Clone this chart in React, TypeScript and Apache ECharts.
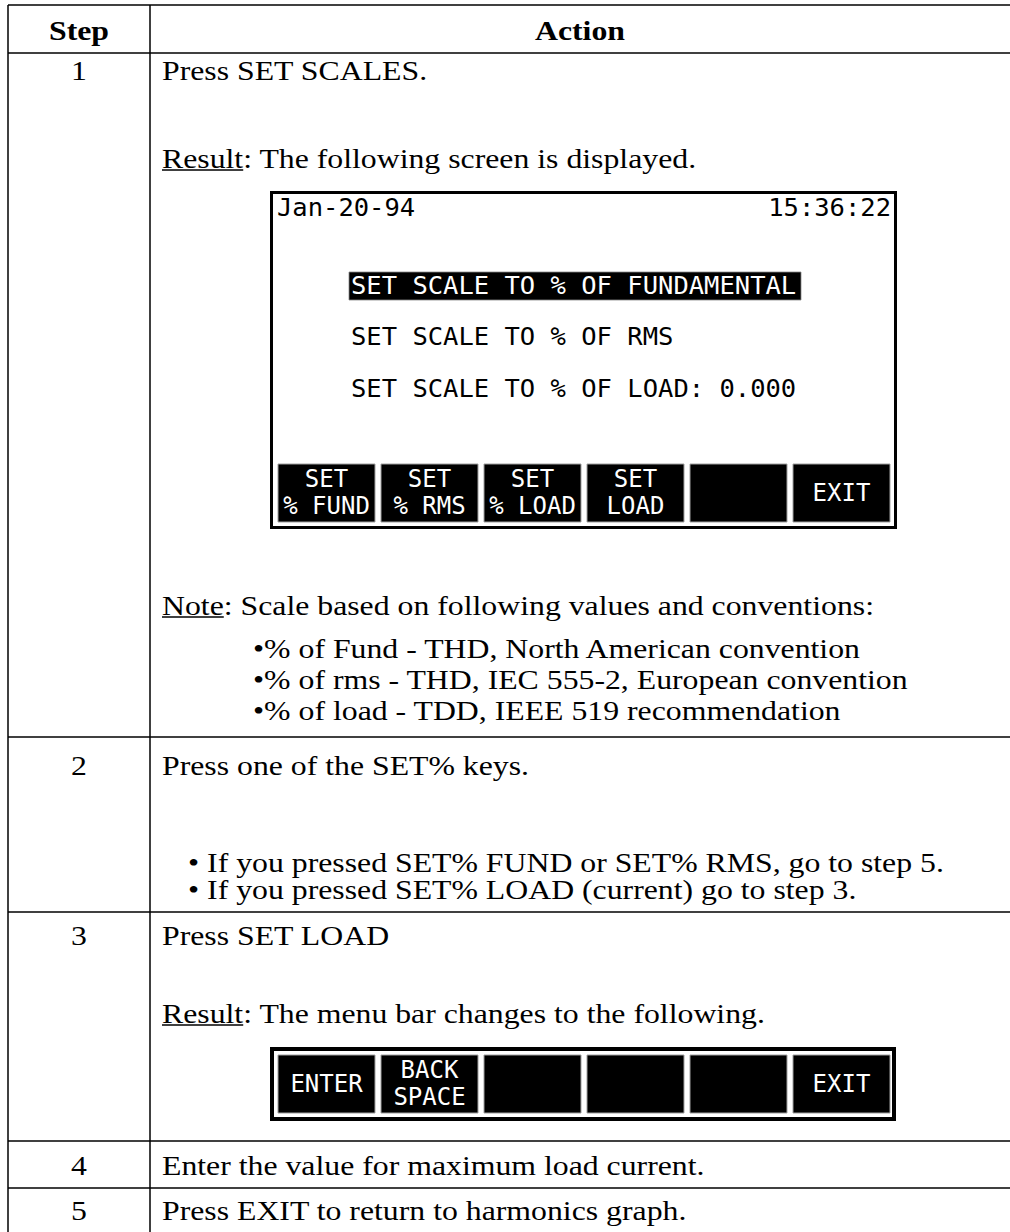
import React, { useEffect, useRef } from "react";
import * as echarts from "echarts";

// ---- content ----
const headerLabels = ["Step", "Action"];
const stepNumbers = ["1", "2", "3", "4", "5"];
const step1Main = "Press SET SCALES.";
const step1Result = "The following screen is displayed.";
const screenDate = "Jan-20-94";
const screenTime = "15:36:22";
const screenMenuItems = [
  "SET SCALE TO % OF FUNDAMENTAL",
  "SET SCALE TO % OF RMS",
  "SET SCALE TO % OF LOAD: 0.000",
];
const screenKeys = [["SET", "% FUND"], ["SET", "% RMS"], ["SET", "% LOAD"], ["SET", "LOAD"], [], ["EXIT"]];
const noteText = "Scale based on following values and conventions:";
const noteBullets = [
  "•% of Fund - THD, North American convention",
  "•% of rms - THD, IEC 555-2, European convention",
  "•% of load - TDD, IEEE 519 recommendation",
];
const step2Main = "Press one of the SET% keys.";
const step2Bullets = [
  "• If you pressed SET% FUND or SET% RMS, go to step 5.",
  "• If you pressed SET% LOAD (current) go to step 3.",
];
const step3Main = "Press SET LOAD";
const step3Result = "The menu bar changes to the following.";
const loadKeys = [["ENTER"], ["BACK", "SPACE"], [], [], [], ["EXIT"]];
const step4Main = "Enter the value for maximum load current.";
const step5Main = "Press EXIT to return to harmonics graph.";

// ---- layout ----
const W = 1010;
const H = 1232;
const SERIF = "Liberation Serif";
const MONO = "DejaVu Sans Mono";
const FS = 28;
const SX = 1.135;
const LCD_FS = 25;
const LCD_SX = 1.02;
const KEY_FS = 24;

function measure(text: string, font: string) {
  const c = document.createElement("canvas");
  const ctx = c.getContext("2d")!;
  ctx.font = font;
  return ctx.measureText(text).width;
}

function serifText(text: string, x: number, y: number, opts: any = {}) {
  return {
    type: "text",
    x,
    y,
    scaleX: SX,
    style: {
      text,
      fill: "#000",
      fontFamily: SERIF,
      fontSize: FS,
      fontWeight: opts.bold ? "bold" : "normal",
      textAlign: opts.align || "left",
      align: opts.align || "left",
      textVerticalAlign: "middle",
      verticalAlign: "middle",
    },
  };
}

function labelWithUnderline(label: string, rest: string, x: number, y: number) {
  const lw = measure(label, `${FS}px "${SERIF}"`) * SX;
  return [
    serifText(label + ": " + rest, x, y),
    { type: "line", shape: { x1: x, y1: y + 12, x2: x + lw, y2: y + 12 }, style: { stroke: "#000", lineWidth: 1.5 } },
  ];
}

function lcdText(text: string, x: number, y: number, fill: string, align = "left", size = LCD_FS, sx = LCD_SX) {
  return {
    type: "text",
    x,
    y,
    scaleX: sx,
    style: {
      text,
      fill,
      fontFamily: MONO,
      fontSize: size,
      textAlign: align,
      align,
      textVerticalAlign: "middle",
      verticalAlign: "middle",
    },
  };
}

function keyBar(keys: string[][], top: number, height: number) {
  const els: any[] = [];
  keys.forEach((lines, i) => {
    const x = 278 + i * 103;
    els.push({
      type: "rect",
      shape: { x, y: top, width: 97, height },
      style: { fill: "#000", stroke: "#a0a0a0", lineWidth: 1 },
    });
    const cx = x + 48.5;
    const cy = top + height / 2;
    if (lines.length === 1) els.push(lcdText(lines[0], cx, cy, "#fff", "center", KEY_FS, 1));
    if (lines.length === 2) {
      els.push(lcdText(lines[0], cx, cy - 14, "#fff", "center", KEY_FS, 1));
      els.push(lcdText(lines[1], cx, cy + 13, "#fff", "center", KEY_FS, 1));
    }
  });
  return els;
}

function buildGraphic() {
  const g: any[] = [];
  const line = (x1: number, y1: number, x2: number, y2: number) =>
    g.push({ type: "line", shape: { x1, y1, x2, y2 }, style: { stroke: "#000", lineWidth: 1.5 } });

  // grid lines
  const divX = 150;
  const leftX = 8;
  const rowLines = [5, 53, 737, 912, 1141, 1188];
  rowLines.forEach((y) => line(leftX, y, W, y));
  line(leftX, 5, leftX, H);
  line(divX, 5, divX, H);

  // header
  g.push(serifText(headerLabels[0], 79, 30, { bold: true, align: "center" }));
  g.push(serifText(headerLabels[1], 580, 30, { bold: true, align: "center" }));

  // step numbers
  const numY = [70, 765, 935, 1165, 1210];
  stepNumbers.forEach((n, i) => g.push(serifText(n, 79, numY[i], { align: "center" })));

  const tx = 162;
  // step 1
  g.push(serifText(step1Main, tx, 70));
  g.push(...labelWithUnderline("Result", step1Result, tx, 158));

  // screen
  g.push({ type: "rect", shape: { x: 271.5, y: 192.5, width: 624, height: 335 }, style: { fill: "#fff", stroke: "#000", lineWidth: 3 } });
  g.push(lcdText(screenDate, 277, 208, "#000"));
  g.push(lcdText(screenTime, 891, 208, "#000", "right"));
  g.push({ type: "rect", shape: { x: 349, y: 272, width: 452, height: 28 }, style: { fill: "#000", stroke: "#888", lineWidth: 0.8 } });
  const menuY = [286, 337, 389];
  screenMenuItems.forEach((t, i) => g.push(lcdText(t, 351, menuY[i], i === 0 ? "#fff" : "#000")));
  g.push(...keyBar(screenKeys, 464, 58));

  // note
  g.push(...labelWithUnderline("Note", noteText, tx, 605));
  const noteY = [648, 679, 710];
  noteBullets.forEach((t, i) => g.push(serifText(t, 253, noteY[i])));

  // step 2
  g.push(serifText(step2Main, tx, 765));
  const b2Y = [862, 889];
  step2Bullets.forEach((t, i) => g.push(serifText(t, 188, b2Y[i])));

  // step 3
  g.push(serifText(step3Main, tx, 935));
  g.push(...labelWithUnderline("Result", step3Result, tx, 1013));
  g.push({ type: "rect", shape: { x: 272, y: 1049, width: 622, height: 70 }, style: { fill: "#fff", stroke: "#000", lineWidth: 4 } });
  g.push(...keyBar(loadKeys, 1055, 58));

  // step 4, 5
  g.push(serifText(step4Main, tx, 1165));
  g.push(serifText(step5Main, tx, 1210));

  return g;
}

export default function App() {
  const ref = useRef<HTMLDivElement>(null);
  useEffect(() => {
    document.body.style.margin = "0";
    const chart = echarts.init(ref.current!, null, { renderer: "svg", width: W, height: H });
    chart.setOption({
      animation: false,
      backgroundColor: "#fff",
      graphic: { elements: buildGraphic() },
    });
    return () => chart.dispose();
  }, []);
  return <div ref={ref} style={{ width: W, height: H }} />;
}
